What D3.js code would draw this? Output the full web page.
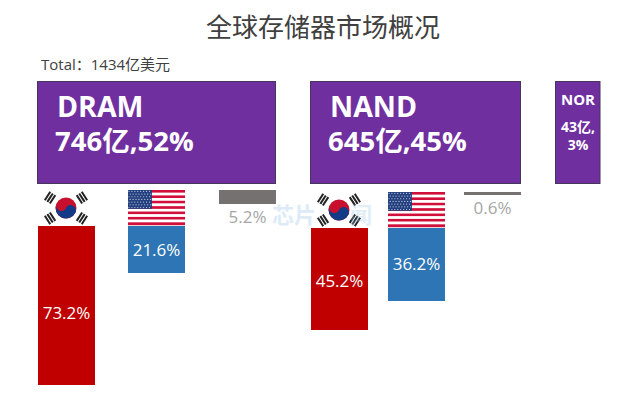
<!DOCTYPE html>
<html><head><meta charset="utf-8">
<script src="https://cdn.jsdelivr.net/npm/d3@7"></script>
<style>html,body{margin:0;padding:0;background:#fff}svg{display:block}
text{font-family:"Open Sans","Noto Sans CJK SC",sans-serif}</style></head><body>
<script>
const title = "全球存储器市场概况";
const totalLabel = "Total：1434亿美元";
const markets = ["DRAM", "NAND", "NOR"];
const marketLine1 = ["746亿,52%", "645亿,45%"];
const norLines = ["43亿,", "3%"];
const dramShares = [73.2, 21.6, 5.2];
const nandShares = [45.2, 36.2, 0.6];
const owners = ["korea", "usa", "other"];

const W = 640, H = 394;
const svg = d3.select("body").append("svg").attr("width", W).attr("height", H);

// market blocks
const marketLeft = d3.scaleOrdinal().domain(markets).range([37.5, 310.5, 555.5]);
const marketRight = d3.scaleOrdinal().domain(markets).range([275.5, 520.5, 600]);
const blockY = 81.5, blockH = 102;
svg.selectAll("rect.m").data(markets).join("rect").attr("class", "m")
  .attr("x", d => marketLeft(d)).attr("y", blockY)
  .attr("width", d => marketRight(d) - marketLeft(d)).attr("height", blockH)
  .attr("fill", "#6f2f9f").attr("stroke", "#46365a").attr("stroke-width", 1);

// length scale
const len = d3.scaleLinear().domain([0, 0.6, 5.2, 21.6, 36.2, 45.2, 73.2])
  .range([0, 3, 14, 47, 73, 102, 159]);
const color = d3.scaleOrdinal().domain(owners).range(["#c00000", "#2e75b6", "#767171"]);
// share label position inside its bar (fraction of the bar's length)
const labelAt = d3.scaleOrdinal().domain([73.2, 21.6, 45.2, 36.2]).range([0.55, 0.5, 0.52, 0.49]);

const groups = [
  {shares: dramShares, xs: [38, 128, 219], tops: [226, 226, 190]},
  {shares: nandShares, xs: [311, 388, 464], tops: [228, 228, 192]}
];
const barW = 57;

function korea(x, y) {
  const g = svg.append("g").attr("transform", `translate(${x},${y})`);
  const r = 10.5;
  g.append("circle").attr("r", r).attr("fill", "#c8102e");
  g.append("path").attr("fill", "#123a86").attr("transform", "rotate(25)")
    .attr("d", `M${-r},0 A${r},${r} 0 0,0 ${r},0 A${r/2},${r/2} 0 0,0 0,0 A${r/2},${r/2} 0 0,1 ${-r},0Z`);
  [-57, 57, 123, 237].forEach(a => {
    const t = g.append("g").attr("transform", `rotate(${a}) translate(0,-19)`);
    [-3, 0, 3].forEach(o => t.append("rect").attr("x", -5).attr("y", o - 1)
      .attr("width", 10).attr("height", 2).attr("fill", "#222"));
  });
}
function usa(x, y, w, h) {
  const g = svg.append("g").attr("transform", `translate(${x},${y})`);
  const stripe = d3.scaleBand().domain(d3.range(13)).range([0, h]);
  g.selectAll("rect").data(d3.range(13)).join("rect")
    .attr("x", 0).attr("y", d => stripe(d)).attr("width", w).attr("height", stripe.bandwidth() + 0.2)
    .attr("fill", d => d % 2 ? "#fff" : "#d0103a");
  const cw = w * 0.42, ch = stripe.bandwidth() * 7;
  g.append("rect").attr("width", cw).attr("height", ch).attr("fill", "#24407f");
  for (let r = 0; r < 7; r++) for (let c = 0; c < 8; c++) {
    g.append("circle").attr("cx", (c + 0.5 + (r % 2 ? 0.25 : -0.15)) * cw / 8.2).attr("cy", (r + 0.5) * ch / 7)
      .attr("r", 0.6).attr("fill", "#c9d2e8");
  }
}

groups.forEach(gr => {
  gr.shares.forEach((v, i) => {
    const x = gr.xs[i], y = gr.tops[i], h = len(v), o = owners[i];
    svg.append("rect").attr("x", x).attr("y", y).attr("width", barW).attr("height", h).attr("fill", color(o));
    const t = svg.append("text").attr("x", x + barW / 2).attr("text-anchor", "middle").attr("font-size", 17).text(v + "%");
    if (o === "other") t.attr("y", y + h + 19).attr("fill", "#a6a6a6");
    else t.attr("y", y + h * labelAt(v) + 6).attr("fill", "#fff");
  });
});

korea(66, 208); korea(339, 210);
usa(128, 190, 57, 35); usa(388, 192, 57, 35);

// watermark
svg.append("text").attr("x", 272).attr("y", 223).attr("font-size", 22).attr("font-weight", 700)
  .attr("fill", "#9cc8ea").attr("opacity", 0.35).text("芯片");
svg.append("text").attr("x", 350).attr("y", 223).attr("font-size", 22).attr("font-weight", 700)
  .attr("fill", "#9cc8ea").attr("opacity", 0.3).text("闻");

// texts
svg.append("text").attr("x", 323).attr("y", 37).attr("text-anchor", "middle")
  .attr("font-size", 26).attr("fill", "#404040").text(title);
svg.append("text").attr("x", 41).attr("y", 70).attr("font-size", 15).attr("fill", "#404040").text(totalLabel);

[[57, 55, 0], [330, 328, 1]].forEach(([x1, x2, i]) => {
  svg.append("text").attr("x", x1).attr("y", 117).attr("font-size", 28.5).attr("font-weight", 700)
    .attr("fill", "#fff").text(markets[i]);
  svg.append("text").attr("x", x2).attr("y", 151).attr("font-size", 27.5).attr("font-weight", 700)
    .attr("fill", "#fff").text(marketLine1[i]);
});
svg.append("text").attr("x", 578).attr("y", 105).attr("text-anchor", "middle").attr("font-size", 15)
  .attr("font-weight", 700).attr("fill", "#fff").text(markets[2]);
norLines.forEach((s, i) => svg.append("text").attr("x", 578).attr("y", 132 + i * 18).attr("text-anchor", "middle")
  .attr("font-size", 14).attr("font-weight", 700).attr("fill", "#fff").text(s));
</script></body></html>
